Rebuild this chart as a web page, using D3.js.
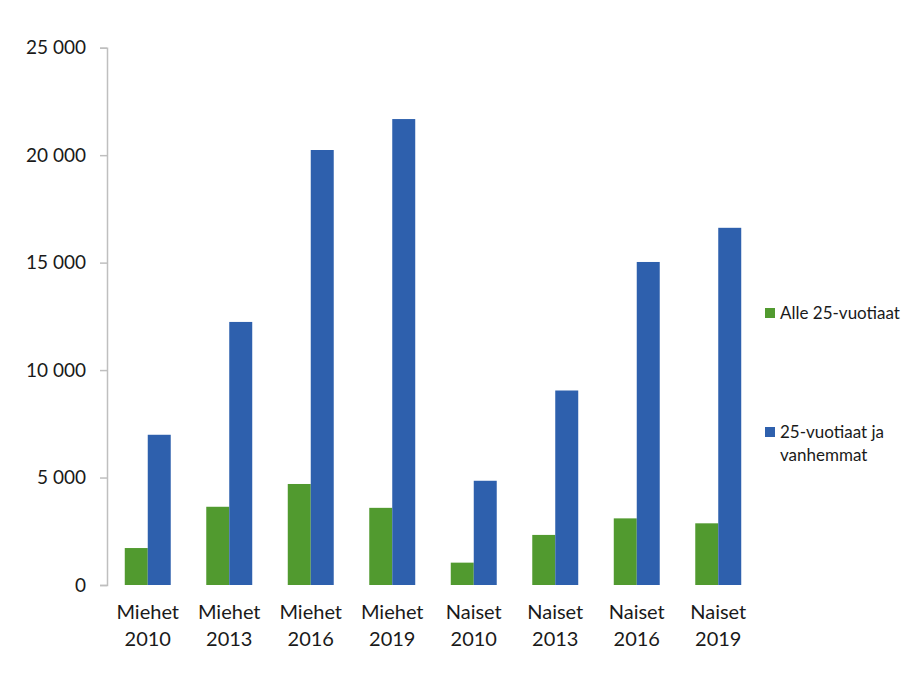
<!DOCTYPE html>
<html>
<head>
<meta charset="utf-8">
<script src="https://cdn.jsdelivr.net/npm/d3@7"></script>
<style>
  html, body { margin: 0; padding: 0; background: #fff; }
  svg { display: block; }
  text { font-family: Lato, "Open Sans", sans-serif; fill: #1a1a1a; }
</style>
</head>
<body>
<svg id="chart" width="920" height="692"></svg>
<script>
const categories = [["Miehet","2010"],["Miehet","2013"],["Miehet","2016"],["Miehet","2019"],
                    ["Naiset","2010"],["Naiset","2013"],["Naiset","2016"],["Naiset","2019"]];
const seriesNames = ["Alle 25-vuotiaat", "25-vuotiaat ja vanhemmat"];
const under25 = [1720, 3640, 4700, 3590, 1040, 2330, 3100, 2870];
const over25  = [6990, 12240, 20240, 21680, 4850, 9050, 15030, 16620];
const yTicks = [0, 5000, 10000, 15000, 20000, 25000];
const colors = ["#519a2f", "#2e60ad"];

const svg = d3.select("#chart");
const mLeft = 107, mRight = 759, mTop = 47.7, mBottom = 585;

const x = d3.scaleBand().domain(d3.range(categories.length)).range([mLeft, mRight]).paddingInner(0).paddingOuter(0);
const y = d3.scaleLinear().domain([0, 25000]).range([mBottom, mTop]);
const barW = x.step() * 0.282;

const fmt = v => d3.format(",")(v).replace(/,/g, " ");

// y axis
const yAxis = svg.append("g").attr("transform", `translate(${mLeft},0)`)
  .call(d3.axisLeft(y).tickValues(yTicks).tickSize(7).tickPadding(14).tickFormat(fmt));
yAxis.select(".domain").attr("stroke", "#bfbfbf").attr("stroke-width", 1.5);
yAxis.selectAll(".tick line").attr("stroke", "#bfbfbf").attr("stroke-width", 1.5);
yAxis.selectAll(".tick text").attr("font-size", 19).attr("font-family", "Lato, sans-serif").attr("fill", "#1a1a1a");

// bars
const data = [under25, over25];
data.forEach((vals, s) => {
  svg.append("g").selectAll("rect").data(vals).join("rect")
    .attr("x", (d, i) => x(i) + x.bandwidth() / 2 - barW + s * barW)
    .attr("width", barW)
    .attr("y", d => y(d))
    .attr("height", d => y(0) - y(d))
    .attr("fill", colors[s]);
});

// x labels
const xl = svg.append("g");
categories.forEach((c, i) => {
  const cx = x(i) + x.bandwidth() / 2;
  const t = xl.append("text").attr("text-anchor", "middle").attr("font-size", 20);
  t.append("tspan").attr("x", cx).attr("y", 619).text(c[0]);
  t.append("tspan").attr("x", cx).attr("y", 646).text(c[1]);
});

// legend
const lg = svg.append("g");
lg.append("rect").attr("x", 765).attr("y", 308).attr("width", 10).attr("height", 10).attr("fill", colors[0]);
lg.append("text").attr("x", 780).attr("y", 319).attr("font-size", 17).text(seriesNames[0]);
lg.append("rect").attr("x", 765).attr("y", 427).attr("width", 10).attr("height", 10).attr("fill", colors[1]);
const t2 = lg.append("text").attr("font-size", 17);
t2.append("tspan").attr("x", 780).attr("y", 438).text("25-vuotiaat ja");
t2.append("tspan").attr("x", 780).attr("y", 461).text("vanhemmat");
</script>
</body>
</html>
